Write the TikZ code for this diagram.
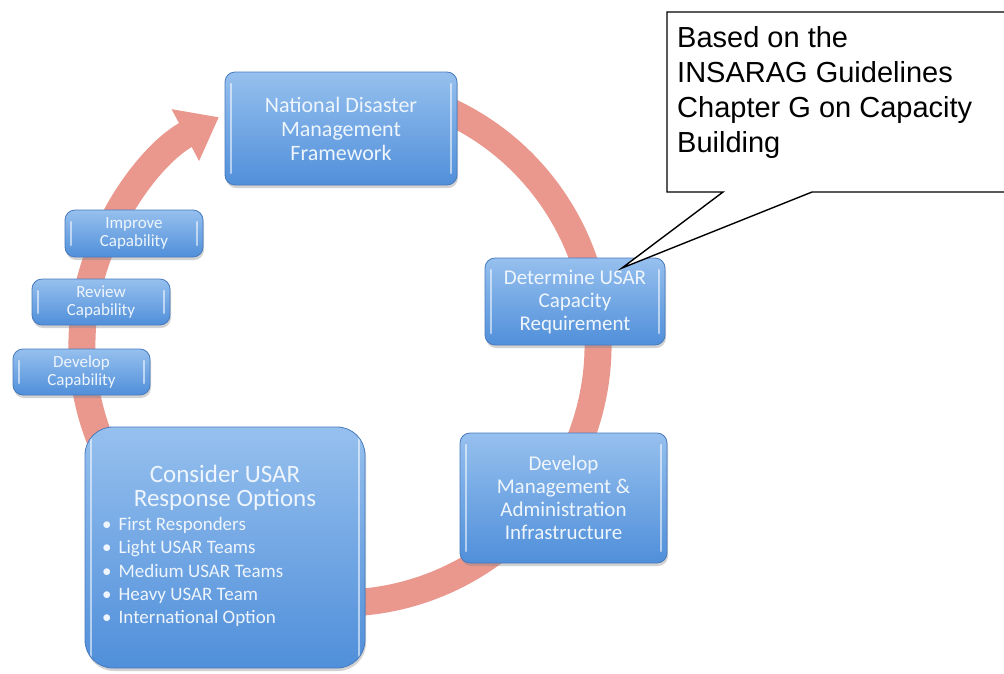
\documentclass[tikz,border=0pt]{standalone}
\usepackage{fontspec}
\setmainfont{Carlito}
\newfontfamily\arialf{Liberation Sans}
\usetikzlibrary{arrows.meta,shadows}
\definecolor{ringc}{RGB}{234,152,142}
\definecolor{boxtop}{RGB}{150,192,238}
\definecolor{boxbot}{RGB}{80,143,218}
\definecolor{boxline}{RGB}{72,122,190}
\definecolor{txtc}{RGB}{238,245,252}
\begin{document}
\begin{tikzpicture}[x=1pt,y=1pt,
  bluebox/.style={draw=boxline, line width=0.8pt, rounded corners=10pt,
    top color=boxtop, bottom color=boxbot, text=txtc, align=center, inner sep=0pt,
    drop shadow={opacity=0.35, shadow xshift=1pt, shadow yshift=-3pt},
    path picture={
      \draw[white, opacity=0.55, line width=2.5pt, line cap=round]
        ([xshift=6pt,yshift=-12pt]path picture bounding box.north west) --
        ([xshift=6pt,yshift=12pt]path picture bounding box.south west);
      \draw[white, opacity=0.55, line width=2.5pt, line cap=round]
        ([xshift=-6pt,yshift=-12pt]path picture bounding box.north east) --
        ([xshift=-6pt,yshift=12pt]path picture bounding box.south east);}},
  bigfont/.style={font=\fontsize{22}{24}\selectfont},
  midfont/.style={font=\fontsize{21}{23}\selectfont},
  smallfont/.style={font=\fontsize{17}{18.5}\selectfont},
  ringstyle/.style={draw=ringc, line width=27pt, -{Triangle[width=56pt,length=38pt]}},
  callout/.style={draw=black, line width=1.4pt, fill=white, line join=miter}
]
\useasboundingbox (0,0) rectangle (1004,-673);
\clip (0,0) rectangle (1004,-673);
\fill[white] (0,0) rectangle (1004,-673);

% cycle arrow
\coordinate (cc) at (340,-345);
\draw[ringstyle] (cc) ++(75:258pt) arc[start angle=75, end angle=-242, radius=258pt];

% boxes
\node[bluebox, bigfont, minimum width=232pt, minimum height=113pt] (ndmf) at (341,-128.5)
  {National Disaster\\Management\\Framework};
\node[bluebox, midfont, minimum width=180pt, minimum height=87pt] (det) at (575,-301.5)
  {Determine USAR\\Capacity\\Requirement};
\node[bluebox, midfont, minimum width=207pt, minimum height=130pt] (dmai) at (563.5,-498)
  {Develop\\Management \&\\Administration\\Infrastructure};
\node[bluebox, rounded corners=28pt, minimum width=280pt, minimum height=241pt] (cons) at (225,-547.5) {};
\node[text=txtc, align=center, inner sep=0pt, font=\fontsize{25}{23.5}\selectfont] (constitle) at (225,-488)
  {Consider USAR\\Response Options};
\node[text=txtc, align=left, inner sep=0pt, anchor=north west, font=\fontsize{19}{23.3}\selectfont] (conslist) at (102,-517)
  {\textbullet\hspace{7pt}First Responders\\
   \textbullet\hspace{7pt}Light USAR Teams\\
   \textbullet\hspace{7pt}Medium USAR Teams\\
   \textbullet\hspace{7pt}Heavy USAR Team\\
   \textbullet\hspace{7pt}International Option};
\node[bluebox, smallfont, minimum width=138pt, minimum height=47pt] (imp) at (134,-233.5)
  {Improve\\Capability};
\node[bluebox, smallfont, minimum width=138pt, minimum height=46pt] (rev) at (101,-302)
  {Review\\Capability};
\node[bluebox, smallfont, minimum width=137pt, minimum height=46pt] (dev) at (81.5,-372)
  {Develop\\Capability};

% callout
\coordinate (tip) at (622,-268);
\draw[callout] (1012,-192) -- (812,-192) -- (tip) -- (723,-192) -- (667,-192) -- (667,-12) -- (1012,-12);
\node[anchor=north west, inner sep=0pt, align=left, font=\arialf\fontsize{29}{35}\selectfont] (note) at (677,-26.5)
  {Based on the\\INSARAG Guidelines\\Chapter G on Capacity\\Building};
\end{tikzpicture}
\end{document}
